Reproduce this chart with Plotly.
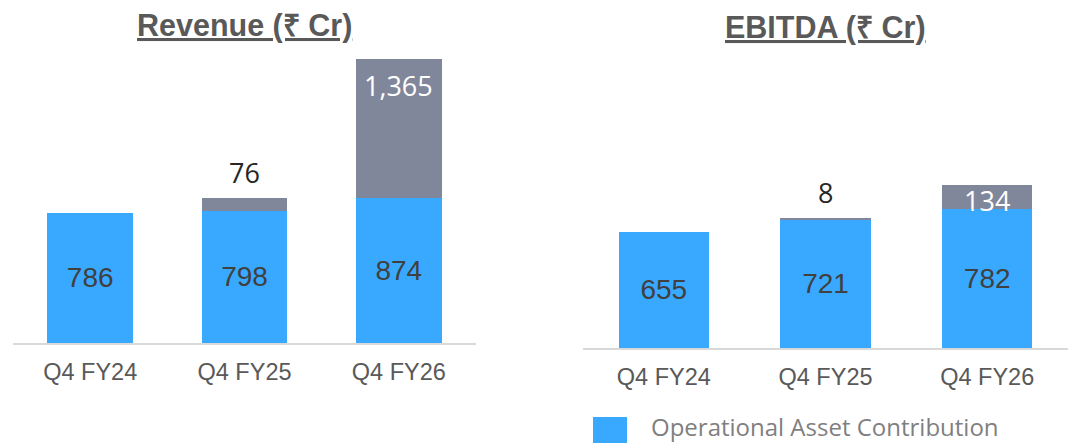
import plotly.graph_objects as go

categories = ["Q4 FY24", "Q4 FY25", "Q4 FY26"]
rev_operational = [786, 798, 874]
rev_new = [None, 76, 1365]
ebitda_operational = [655, 721, 782]
ebitda_new = [None, 8, 134]

BLUE = "#39A9FF"
GRAY = "#81879B"
W, H = 1069, 443

REV_MAX = 1716
EB_MAX = 1626

fig = go.Figure()

def add_pair(op, new, xa, ya):
    fig.add_trace(go.Bar(
        x=categories, y=op, name="Operational Asset Contribution",
        marker=dict(color=BLUE, line=dict(width=0)),
        text=[str(v) for v in op], textposition="inside", insidetextanchor="middle",
        textfont=dict(family="Liberation Sans, Arial", size=28, color="#404040"),
        xaxis=xa, yaxis=ya, showlegend=False,
    ))
    fig.add_trace(go.Bar(
        x=categories, y=new, name="New Asset Contribution",
        marker=dict(color=GRAY, line=dict(width=0)),
        xaxis=xa, yaxis=ya, showlegend=False, hoverinfo="y",
    ))

add_pair(rev_operational, rev_new, "x", "y")
add_pair(ebitda_operational, ebitda_new, "x2", "y2")

annotations = []

def gray_labels(op, new, xref, yref, ymax):
    for c, o, n in zip(categories, op, new):
        if n is None:
            continue
        total = o + n
        label = f"{n:,}"
        if n < 100:
            annotations.append(dict(
                x=c, y=total, xref=xref, yref=yref, text=label, showarrow=False,
                yanchor="bottom", yshift=5,
                font=dict(family="Open Sans", size=27, color="#262626")))
        else:
            y = min(total, ymax)
            annotations.append(dict(
                x=c, y=y, xref=xref, yref=yref, text=label, showarrow=False,
                yanchor="top", yshift=(5 if total <= ymax else -6),
                font=dict(family="Open Sans", size=27, color="white")))

gray_labels(rev_operational, rev_new, "x", "y", REV_MAX)
gray_labels(ebitda_operational, ebitda_new, "x2", "y2", EB_MAX)

title_font = dict(family="Liberation Sans, Arial", size=30.5, color="#595959")
annotations.append(dict(x=0.5, xref="x domain", y=(H - 25) / H, yref="paper", text="<b><u>Revenue (₹ Cr)</u></b>",
                        showarrow=False, font=title_font, yanchor="middle"))
annotations.append(dict(x=0.5, xref="x2 domain", y=(H - 28) / H, yref="paper", text="<b><u>EBITDA (₹ Cr)</u></b>",
                        showarrow=False, font=title_font, yanchor="middle"))

# legend (drawn manually to match large swatch)
annotations.append(dict(x=649 / W, xref="paper", y=(H - 426) / H, yref="paper",
                        text="Operational Asset Contribution", showarrow=False,
                        xanchor="left", yanchor="middle",
                        font=dict(family="Open Sans", size=24, color="#7F7F7F")))
shapes = [dict(type="rect", xref="paper", yref="paper", x0=593 / W, x1=627 / W,
               y0=0, y1=(H - 417) / H, fillcolor=BLUE, line=dict(width=0))]

axis_common = dict(showgrid=False, zeroline=False, showline=True, linecolor="#D9D9D9", linewidth=2,
                   tickfont=dict(family="Liberation Sans, Arial", size=23.5, color="#595959"),
                   ticks="", ticklabelstandoff=7, fixedrange=True)
yaxis_common = dict(showgrid=False, zeroline=False, showline=False, showticklabels=False, fixedrange=True)

fig.update_layout(
    width=W, height=H, margin=dict(l=0, r=0, t=0, b=0),
    paper_bgcolor="white", plot_bgcolor="white",
    barmode="stack", bargap=0.443,
    xaxis=dict(domain=[13 / W, 476 / W], anchor="y", **axis_common),
    yaxis=dict(domain=[(H - 343) / H, (H - 59) / H], range=[0, REV_MAX], anchor="x", **yaxis_common),
    xaxis2=dict(domain=[583 / W, 1068 / W], anchor="y2", **axis_common),
    yaxis2=dict(domain=[(H - 348) / H, (H - 59) / H], range=[0, EB_MAX], anchor="x2", **yaxis_common),
    annotations=annotations, shapes=shapes, showlegend=False,
)

fig.write_html("out.html", config={"displayModeBar": False},
               post_script="document.body.style.margin='0';document.body.style.overflow='hidden';")
